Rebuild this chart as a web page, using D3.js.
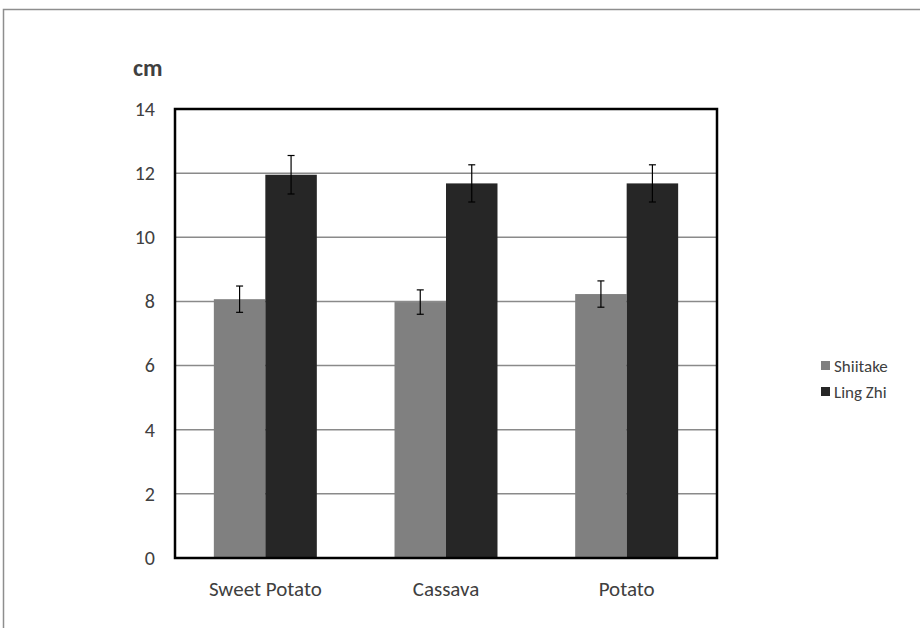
<!DOCTYPE html>
<html>
<head>
<meta charset="utf-8">
<script src="https://cdn.jsdelivr.net/npm/d3@7"></script>
<style>
  html, body { margin: 0; padding: 0; background: #fff; }
  svg { display: block; }
  text { font-family: "Carlito", "Liberation Sans", Arial, sans-serif; fill: #404040; }
</style>
</head>
<body>
<svg id="chart" width="920" height="628"></svg>
<script>
const categories = ["Sweet Potato", "Cassava", "Potato"];
const seriesNames = ["Shiitake", "Ling Zhi"];
const shiitake = [8.07, 7.98, 8.23];
const lingZhi = [11.95, 11.68, 11.68];
const shiitakeErr = [0.41, 0.38, 0.41];
const lingZhiErr = [0.6, 0.58, 0.58];
const yTicks = [0, 2, 4, 6, 8, 10, 12, 14];
const colors = ["#808080", "#262626"];

const svg = d3.select("#chart");
const W = 920, H = 628;
const plot = { left: 175, right: 717, top: 109, bottom: 558 };
const FONT = "Carlito, 'Liberation Sans', Arial, sans-serif";

// outer chart border
svg.append("rect")
  .attr("x", 3.5).attr("y", 9.5)
  .attr("width", W + 20).attr("height", H + 20)
  .attr("fill", "none").attr("stroke", "#8e8e8e").attr("stroke-width", 1.5);

const y = d3.scaleLinear().domain([0, 14]).range([plot.bottom, plot.top]);
const x0 = d3.scaleBand().domain(categories).range([plot.left, plot.right]).padding(0);
const groupW = x0.bandwidth() * 0.57;
const x1 = d3.scaleBand().domain(seriesNames).range([0, groupW]).padding(0);

// gridlines
svg.append("g").selectAll("line")
  .data(yTicks.filter(t => t > 0 && t < 14))
  .join("line")
  .attr("x1", plot.left).attr("x2", plot.right)
  .attr("y1", d => y(d)).attr("y2", d => y(d))
  .attr("stroke", "#8a8a8a").attr("stroke-width", 1.5);

const data = categories.map((c, i) => ({
  cat: c,
  vals: [
    { s: seriesNames[0], v: shiitake[i], e: shiitakeErr[i], c: colors[0] },
    { s: seriesNames[1], v: lingZhi[i], e: lingZhiErr[i], c: colors[1] }
  ]
}));

const groups = svg.append("g").selectAll("g")
  .data(data).join("g")
  .attr("transform", d => `translate(${x0(d.cat) + (x0.bandwidth() - groupW) / 2},0)`);

groups.selectAll("rect")
  .data(d => d.vals).join("rect")
  .attr("x", d => x1(d.s))
  .attr("width", x1.bandwidth())
  .attr("y", d => y(d.v))
  .attr("height", d => y(0) - y(d.v))
  .attr("fill", d => d.c);

// error bars
const eb = groups.selectAll("g.err").data(d => d.vals).join("g").attr("class", "err");
eb.append("line")
  .attr("x1", d => x1(d.s) + x1.bandwidth() / 2).attr("x2", d => x1(d.s) + x1.bandwidth() / 2)
  .attr("y1", d => y(d.v + d.e)).attr("y2", d => y(d.v - d.e))
  .attr("stroke", "#000").attr("stroke-width", 1.2);
[1, -1].forEach(sg => {
  eb.append("line")
    .attr("x1", d => x1(d.s) + x1.bandwidth() / 2 - 3.5).attr("x2", d => x1(d.s) + x1.bandwidth() / 2 + 3.5)
    .attr("y1", d => y(d.v + sg * d.e)).attr("y2", d => y(d.v + sg * d.e))
    .attr("stroke", "#000").attr("stroke-width", 1.2);
});

// plot border
svg.append("rect")
  .attr("x", plot.left).attr("y", plot.top)
  .attr("width", plot.right - plot.left).attr("height", plot.bottom - plot.top)
  .attr("fill", "none").attr("stroke", "#000").attr("stroke-width", 2.5);

// y axis labels
const yAxis = d3.axisLeft(y).tickValues(yTicks).tickSize(0).tickPadding(20);
const ya = svg.append("g").attr("transform", `translate(${plot.left},0)`).call(yAxis);
ya.select(".domain").remove();
ya.selectAll("text").attr("font-size", 20).attr("fill", "#404040").attr("font-family", FONT);

// x axis labels
const xAxis = d3.axisBottom(x0).tickSize(0).tickPadding(23);
const xa = svg.append("g").attr("transform", `translate(0,${plot.bottom})`).call(xAxis);
xa.select(".domain").remove();
xa.selectAll("text").attr("font-size", 21).attr("fill", "#404040").attr("font-family", FONT);

// unit label
svg.append("text").attr("x", 133).attr("y", 76)
  .attr("font-size", 24).attr("font-weight", "bold").attr("fill", "#262626")
  .text("cm");

// legend
const lg = svg.append("g").selectAll("g")
  .data(seriesNames).join("g")
  .attr("transform", (d, i) => `translate(821,${366 + i * 26})`);
lg.append("rect").attr("x", 0).attr("y", -5).attr("width", 9).attr("height", 9)
  .attr("fill", (d, i) => colors[i]);
lg.append("text").attr("x", 13).attr("y", 5.5).attr("font-size", 17)
  .text(d => d);
</script>
</body>
</html>
